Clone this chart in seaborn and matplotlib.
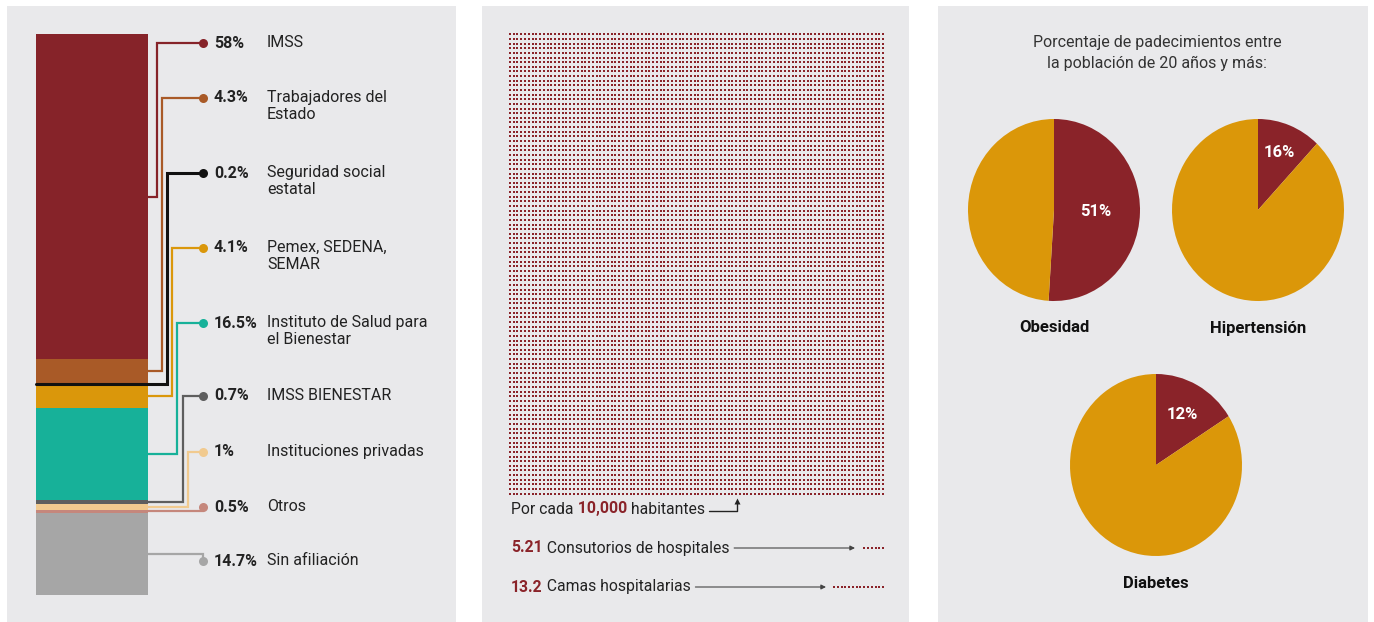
import numpy as np
import pandas as pd
import matplotlib
matplotlib.use('Agg')
import matplotlib.pyplot as plt
import seaborn as sns
from matplotlib.patches import Rectangle

sns.set_theme(style='white')
plt.rcParams['font.family'] = ['Roboto', 'DejaVu Sans']

# ---------------- data ----------------
afiliacion = ['IMSS', 'Trabajadores del\nEstado', 'Seguridad social\nestatal',
              'Pemex, SEDENA,\nSEMAR', 'Instituto de Salud para\nel Bienestar',
              'IMSS BIENESTAR', 'Instituciones privadas', 'Otros', 'Sin afiliación']
porcentaje = [58, 4.3, 0.2, 4.1, 16.5, 0.7, 1, 0.5, 14.7]
pct_labels = ['58%', '4.3%', '0.2%', '4.1%', '16.5%', '0.7%', '1%', '0.5%', '14.7%']
colores = ['#862329', '#a95a27', '#111111', '#da970b', '#17b199',
           '#5e5e5e', '#f1ca8f', '#c5877c', '#a6a6a6']

habitantes = 10000
recursos = ['Consutorios de hospitales', 'Camas hospitalarias']
recursos_val = [5.21, 13.2]
recursos_txt = ['5.21', '13.2']

padecimientos = ['Obesidad', 'Hipertensión', 'Diabetes']
padec_labels = ['51%', '16%', '12%']
# wedge shares as they are drawn in the source graphic
padec_dibujado = [51, 12, 16]

# ---------------- colours / layout ----------------
ROJO = '#8a2329'
ORO = '#db9709'
PANEL = '#e9e9eb'
TXT = '#222222'
W, H = 1374, 622

fig = plt.figure(figsize=(W / 100, H / 100), dpi=100, facecolor='white')


def px_axes(x, y, w, h, z=1):
    ax = fig.add_axes([x / W, 1 - (y + h) / H, w / W, h / H], zorder=z)
    ax.set_facecolor('none')
    ax.axis('off')
    return ax


ax_bg = px_axes(0, 0, W, H, z=0)
ax_bg.set_xlim(0, W)
ax_bg.set_ylim(H, 0)
for x0, x1 in [(7, 456), (482, 909), (938, 1368)]:
    ax_bg.add_patch(Rectangle((x0, 6), x1 - x0, H - 6, color=PANEL, lw=0))

ax_px = px_axes(0, 0, W, H, z=3)
ax_px.set_xlim(0, W)
ax_px.set_ylim(H, 0)
renderer = fig.canvas.get_renderer()


def text_right(t):
    bb = t.get_window_extent(renderer)
    return ax_px.transData.inverted().transform((bb.x1, bb.y0))[0]


# ---------------- panel 1: stacked bar ----------------
BAR_X, BAR_Y, BAR_W, BAR_H = 36, 34, 112, 561
ax_bar = px_axes(BAR_X, BAR_Y, BAR_W, BAR_H)
ax_bar.set_xlim(0, 1)
ax_bar.set_ylim(100, 0)
bottoms = np.concatenate([[0], np.cumsum(porcentaje)[:-1]])
ax_bar.bar([0.5] * len(porcentaje), porcentaje, bottom=bottoms, width=1,
           color=colores, linewidth=0)

label_y = [43, 98, 173, 248, 323, 396, 452, 507, 561]
elbow_x = [157, 162, 167, 172, 177, 183, 188, 203, 203]
DOT_X = 203
for i, (name, lab, col) in enumerate(zip(afiliacion, pct_labels, colores)):
    mid = BAR_Y + (bottoms[i] + porcentaje[i] / 2) / 100 * BAR_H
    x_start = BAR_X if porcentaje[i] < 0.5 else BAR_X + BAR_W
    lw = 2.2 if porcentaje[i] < 0.5 else 1.6
    ax_px.plot([x_start, elbow_x[i], elbow_x[i], DOT_X],
               [mid, mid, label_y[i], label_y[i]], color=col, lw=lw,
               solid_joinstyle='miter')
    ax_px.plot(DOT_X, label_y[i], 'o', color=col, ms=6.5, mec='none')
    ax_px.text(214, label_y[i], lab, fontsize=11.5, fontweight='bold',
               color=TXT, va='center')
    ax_px.text(267, label_y[i] - 8, name, fontsize=11.5, color=TXT,
               va='top', linespacing=1.2)

# ---------------- panel 2: dot grid ----------------
GX, GY, GW, GH = 508, 32, 377, 464
ncol = 100
nrow = habitantes // ncol
ax_grid = px_axes(GX, GY, GW, GH)
cols, rows = np.meshgrid(np.arange(ncol), np.arange(nrow))
grid = pd.DataFrame({'col': cols.ravel(), 'row': rows.ravel()})
sns.scatterplot(data=grid, x='col', y='row', marker='s', s=2.0, color=ROJO,
                linewidth=0, legend=False, ax=ax_grid)


def px_to_row(y):
    return (y - GY) / GH * nrow - 0.5


# "Por cada 10,000 habitantes"
FS = 11.3
t = ax_px.text(511, 509, 'Por cada', fontsize=FS, color=TXT, va='center')
t = ax_px.annotate(f' {habitantes:,}', xy=(1, 0), xycoords=t, va='bottom',
                   fontsize=FS, fontweight='bold', color=ROJO)
t = ax_px.annotate(' habitantes', xy=(1, 0), xycoords=t, va='bottom',
                   fontsize=FS, color=TXT)
x0 = text_right(t) + 4
ax_px.plot([x0, 737, 737], [511, 511, 503], color=TXT, lw=1)
ax_px.plot(737, 501, marker='^', color=TXT, ms=4, mec='none')

res_y = [548, 587]
arrow_end = [855, 826]
for name, val, txt, y, a1 in zip(recursos, recursos_val, recursos_txt,
                                 res_y, arrow_end):
    t = ax_px.text(511, y, txt, fontsize=FS, fontweight='bold', color=ROJO,
                   va='center')
    t = ax_px.annotate(' ' + name, xy=(1, 0), xycoords=t, va='bottom',
                       fontsize=FS, color=TXT)
    x0 = text_right(t) + 5
    ax_px.annotate('', xy=(a1, y), xytext=(x0, y),
                   arrowprops=dict(arrowstyle='-|>', color='#444444', lw=0.8,
                                   mutation_scale=7, shrinkA=0, shrinkB=0))
    n = int(np.ceil(val))
    dots = pd.DataFrame({'col': np.arange(ncol - n, ncol),
                         'row': [px_to_row(y)] * n})
    sns.scatterplot(data=dots, x='col', y='row', marker='s', s=2.4, color=ROJO,
                    linewidth=0, legend=False, ax=ax_grid, clip_on=False)
ax_grid.set_xlim(-0.5, ncol - 0.5)
ax_grid.set_ylim(nrow - 0.5, -0.5)
ax_grid.axis('off')

# ---------------- panel 3: pies ----------------
ax_px.text(1157, 53, 'Porcentaje de padecimientos entre\nla población de 20 años y más:',
           ha='center', va='center', fontsize=11.5, color='#333333',
           linespacing=1.45)

centros = [(1054, 210), (1258, 210), (1156, 465)]
RX, RY = 86, 91
dist = [0.48, 0.68, 0.63]
for name, lab, share, (cx, cy), d in zip(padecimientos, padec_labels,
                                         padec_dibujado, centros, dist):
    ax = px_axes(cx - RX, cy - RY, 2 * RX, 2 * RY)
    ax.pie([share, 100 - share], colors=[ROJO, ORO], startangle=90,
           counterclock=False, radius=1, wedgeprops=dict(linewidth=0))
    ax.set_aspect('auto')
    ax.set_xlim(-1, 1)
    ax.set_ylim(-1, 1)
    ang = np.deg2rad(90 - 360 * share / 200)
    ax.text(d * np.cos(ang), d * np.sin(ang), lab, ha='center', va='center',
            color='white', fontsize=12, fontweight='bold')
    ax_px.text(cx, cy + RY + 27, name, ha='center', va='center',
               fontsize=12, fontweight='bold', color='#111111')

fig.savefig('out.png', dpi=100, facecolor='white')
